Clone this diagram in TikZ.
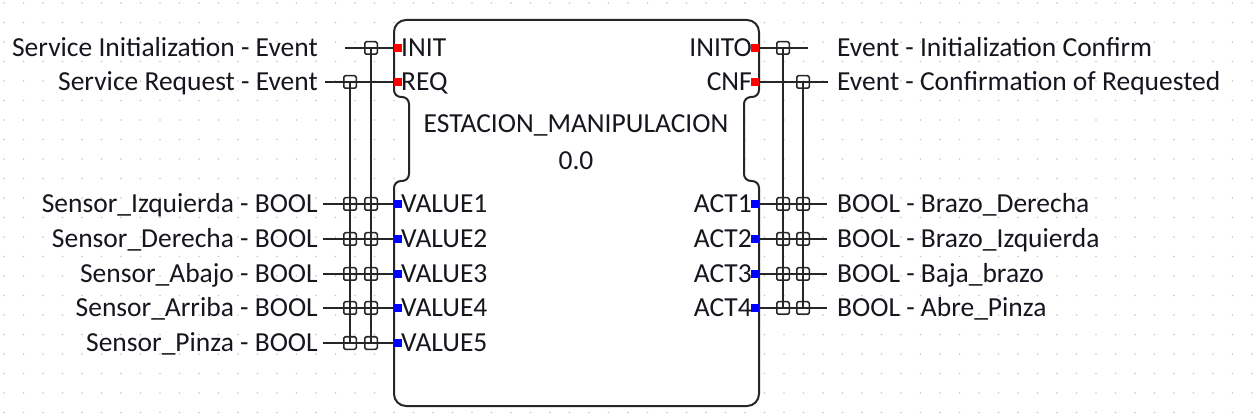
\documentclass[tikz,border=0pt]{standalone}
\usepackage{fontspec}
\setmainfont{Carlito}
\definecolor{linec}{HTML}{262626}
\definecolor{txtc}{HTML}{16161E}
\definecolor{dotc}{HTML}{C8C8C8}
\begin{document}
\begin{tikzpicture}[x=1pt,y=-1pt,
  ln/.style={line width=2pt, draw=linec},
  sq/.style={draw=linec, line width=1.5pt, rectangle, minimum size=12.5pt, inner sep=0pt, rounded corners=1.5pt},
  evp/.style={rectangle, fill=red, minimum size=7pt, inner sep=0pt},
  dtp/.style={rectangle, fill=blue, minimum size=7pt, inner sep=0pt},
  txt/.style={font=\fontsize{27.5}{30}\selectfont, text=txtc, inner sep=0pt},
  lw/.style={txt, anchor=base west, yshift=-8.8pt},
  le/.style={txt, anchor=base east, yshift=-8.8pt},
  lc/.style={txt, anchor=base, yshift=-8.8pt},
  boxs/.style={draw=linec, line width=2pt, fill=white},
]
\useasboundingbox (0,0) rectangle (1254,414);
\fill[white] (0,0) rectangle (1254,414);
% dot grid
\foreach \gx in {4,23.5,...,1254} {
  \foreach \gy in {3,22.5,...,414} {
    \fill[dotc] (\gx,\gy) circle[radius=0.9];
  }
}
% ---------- block ----------
\path[boxs] (394,32)
  .. controls (394,25.4) and (399.4,20) .. (406,20)
  -- (747,20)
  .. controls (753.6,20) and (759,25.4) .. (759,32)
  -- (759,90)
  .. controls (759,93.9) and (755.9,97) .. (752,97)
  -- (751,97)
  .. controls (747.1,97) and (744,100.1) .. (744,104)
  -- (744,174)
  .. controls (744,177.9) and (747.1,181) .. (751,181)
  -- (752,181)
  .. controls (755.9,181) and (759,184.1) .. (759,188)
  -- (759,394)
  .. controls (759,400.6) and (753.6,406) .. (747,406)
  -- (406,406)
  .. controls (399.4,406) and (394,400.6) .. (394,394)
  -- (394,188)
  .. controls (394,184.1) and (397.1,181) .. (401,181)
  -- (402,181)
  .. controls (405.9,181) and (409,177.9) .. (409,174)
  -- (409,104)
  .. controls (409,100.1) and (405.9,97) .. (402,97)
  -- (401,97)
  .. controls (397.1,97) and (394,93.9) .. (394,90)
  -- cycle;
\node[lc] (title) at (576,124) {ESTACION\_MANIPULACION};
\node[lc] (ver) at (576,161) {0.0};
% ---------- ports ----------
\node[evp] (pI) at (398,48) {};
\node[evp] (pR) at (398,82) {};
\node[evp] (pIO) at (755,48) {};
\node[evp] (pC) at (755,82) {};
\foreach \k/\yy in {1/204,2/239,3/274,4/308,5/343} {
  \node[dtp] (pV\k) at (398,\yy) {};
  \coordinate (iV\k) at (323,\yy);
}
\foreach \k/\yy in {1/204,2/239,3/274,4/308} {
  \node[dtp] (pA\k) at (755,\yy) {};
  \coordinate (oA\k) at (827,\yy);
}
\node[lw] (tI) at (401,48) {INIT};
\node[lw] (tR) at (401,82) {REQ};
\node[le] (tIO) at (752,48) {INITO};
\node[le] (tC) at (752,82) {CNF};
\foreach \k/\yy in {1/204,2/239,3/274,4/308,5/343} {
  \node[lw] (tV\k) at (401,\yy) {VALUE\k};
}
\foreach \k/\yy in {1/204,2/239,3/274,4/308} {
  \node[le] (tA\k) at (752,\yy) {ACT\k};
}
% ---------- connection lines ----------
\coordinate (iI) at (345,48);
\coordinate (iR) at (325,82);
\coordinate (oIO) at (808,48);
\coordinate (oC) at (828,82);
% squares (with-associations)
\node[sq] (sI) at (371,48) {};
\node[sq] (sR) at (350,82) {};
\node[sq] (sIO) at (783,48) {};
\node[sq] (sC) at (803,82) {};
\foreach \k/\yy in {1/204,2/239,3/274,4/308,5/343} {
  \node[sq] (sV\k a) at (350,\yy) {};
  \node[sq] (sV\k b) at (371,\yy) {};
}
\foreach \k/\yy in {1/204,2/239,3/274,4/308} {
  \node[sq] (sA\k a) at (783,\yy) {};
  \node[sq] (sA\k b) at (803,\yy) {};
}
\draw[ln] (iI) -- (pI.center);
\draw[ln] (iR) -- (pR.center);
\draw[ln] (pIO.center) -- (oIO);
\draw[ln] (pC.center) -- (oC);
\foreach \k in {1,...,5} { \draw[ln] (iV\k) -- (pV\k.center); }
\foreach \k in {1,...,4} { \draw[ln] (pA\k.center) -- (oA\k); }
\draw[ln] (sI.center) -- (sV5b.center);
\draw[ln] (sR.center) -- (sV5a.center);
\draw[ln] (sIO.center) -- (sA4a.center);
\draw[ln] (sC.center) -- (sA4b.center);
% redraw port markers on top
\foreach \n in {pI,pR,pIO,pC} { \fill[red] (\n.south west) rectangle (\n.north east); }
\foreach \n in {pV1,pV2,pV3,pV4,pV5,pA1,pA2,pA3,pA4} { \fill[blue] (\n.south west) rectangle (\n.north east); }
% ---------- outside labels ----------
\node[le] (lI) at (318,48) {Service Initialization - Event};
\node[le] (lR) at (318,82) {Service Request - Event};
\node[lw] (lIO) at (837,48) {Event - Initialization Confirm};
\node[lw] (lC) at (837,82) {Event - Confirmation of Requested};
\node[le] (lV1) at (318,204) {Sensor\_Izquierda - BOOL};
\node[le] (lV2) at (318,239) {Sensor\_Derecha - BOOL};
\node[le] (lV3) at (318,274) {Sensor\_Abajo - BOOL};
\node[le] (lV4) at (318,308) {Sensor\_Arriba - BOOL};
\node[le] (lV5) at (318,343) {Sensor\_Pinza - BOOL};
\node[lw] (lA1) at (837,204) {BOOL - Brazo\_Derecha};
\node[lw] (lA2) at (837,239) {BOOL - Brazo\_Izquierda};
\node[lw] (lA3) at (837,274) {BOOL - Baja\_brazo};
\node[lw] (lA4) at (837,308) {BOOL - Abre\_Pinza};
\end{tikzpicture}
\end{document}
